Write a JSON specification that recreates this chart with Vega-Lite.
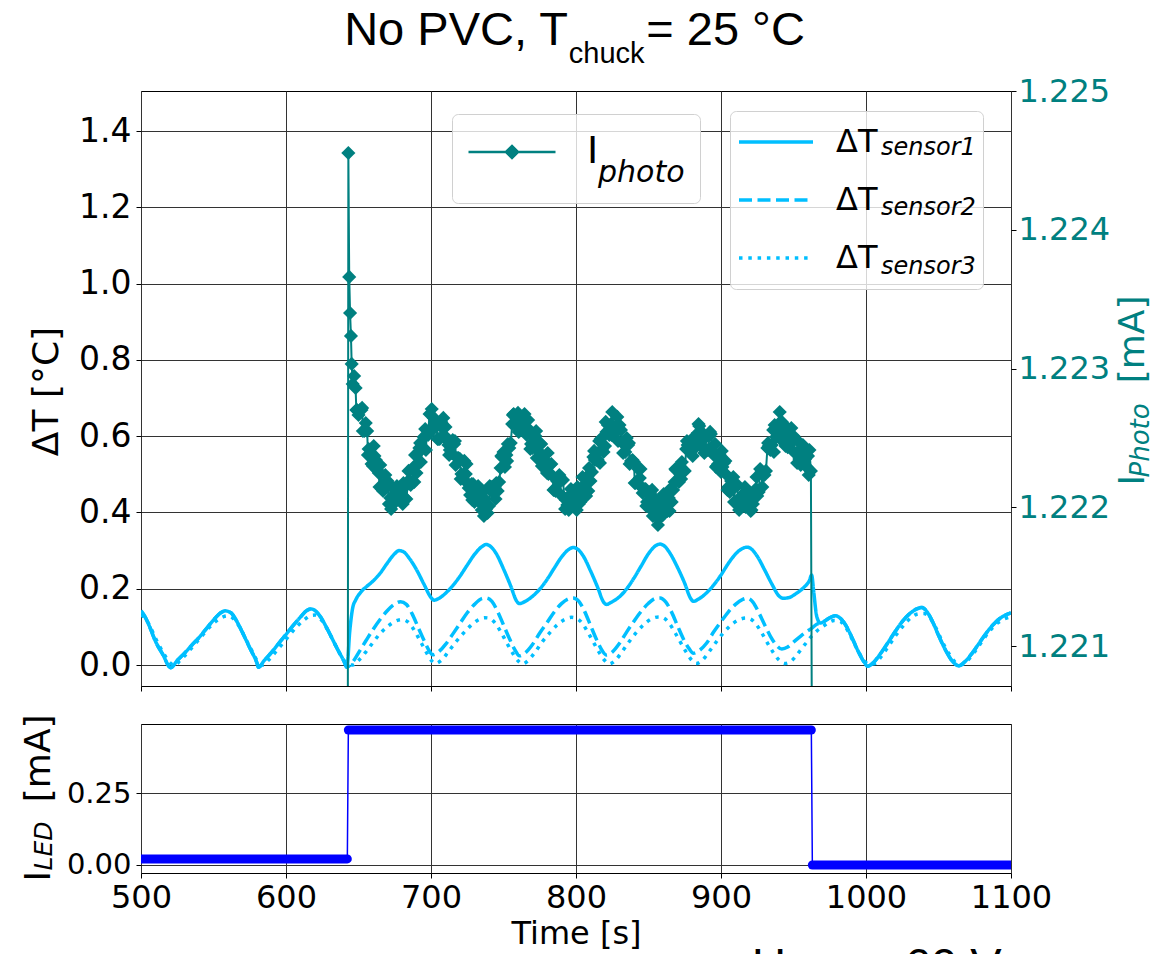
{
  "$schema": "https://vega.github.io/schema/vega-lite/v6.json",
  "background": "white",
  "padding": {"left": 19, "top": 6, "right": 0, "bottom": 0},
  "title": {
    "text": "No PVC, T\u00a0\u00a0\u00a0\u00a0\u00a0\u00a0= 25 °C",
    "subtitle": "\u200b\u00a0\u00a0\u00a0\u00a0\u00a0\u00a0\u00a0\u00a0chuck",
    "anchor": "middle", "dx": -12,
    "font": "Liberation Sans", "fontSize": 47, "fontWeight": "normal", "color": "#000",
    "subtitleFont": "Liberation Sans", "subtitleFontSize": 29, "subtitleColor": "#000",
    "subtitlePadding": -15, "offset": 5
  },
  "spacing": 38,
  "bounds": "flush",
  "datasets": {
    "dT": [
      {"t":500,"v":0.142,"s":"1"},{"t":503,"v":0.125,"s":"1"},{"t":506,"v":0.100,"s":"1"},{"t":510,"v":0.062,"s":"1"},{"t":515,"v":0.028,"s":"1"},{"t":520.5,"v":-0.007,"s":"1"},{"t":525,"v":0.012,"s":"1"},{"t":530,"v":0.031,"s":"1"},{"t":535,"v":0.052,"s":"1"},{"t":540,"v":0.072,"s":"1"},{"t":545,"v":0.095,"s":"1"},{"t":550,"v":0.118,"s":"1"},{"t":555,"v":0.137,"s":"1"},{"t":558,"v":0.142,"s":"1"},{"t":562,"v":0.137,"s":"1"},{"t":566,"v":0.115,"s":"1"},{"t":570,"v":0.085,"s":"1"},{"t":575,"v":0.045,"s":"1"},{"t":580,"v":0.005,"s":"1"},{"t":581,"v":-0.006,"s":"1"},{"t":585,"v":0.012,"s":"1"},{"t":590,"v":0.033,"s":"1"},{"t":595,"v":0.057,"s":"1"},{"t":600,"v":0.080,"s":"1"},{"t":605,"v":0.104,"s":"1"},{"t":610,"v":0.126,"s":"1"},{"t":614,"v":0.142,"s":"1"},{"t":617,"v":0.147,"s":"1"},{"t":620,"v":0.143,"s":"1"},{"t":624,"v":0.125,"s":"1"},{"t":628,"v":0.098,"s":"1"},{"t":632,"v":0.068,"s":"1"},{"t":636,"v":0.038,"s":"1"},{"t":640,"v":0.010,"s":"1"},{"t":642,"v":-0.006,"s":"1"},
      {"t":644,"v":0.090,"s":"1"},{"t":646,"v":0.150,"s":"1"},{"t":648,"v":0.170,"s":"1"},{"t":652,"v":0.193,"s":"1"},{"t":656,"v":0.207,"s":"1"},{"t":660,"v":0.220,"s":"1"},{"t":665,"v":0.241,"s":"1"},{"t":670,"v":0.268,"s":"1"},{"t":675,"v":0.292,"s":"1"},{"t":678,"v":0.300,"s":"1"},{"t":681,"v":0.297,"s":"1"},{"t":685,"v":0.280,"s":"1"},{"t":690,"v":0.250,"s":"1"},{"t":695,"v":0.213,"s":"1"},{"t":700,"v":0.177,"s":"1"},{"t":702,"v":0.170,"s":"1"},{"t":706,"v":0.176,"s":"1"},{"t":710,"v":0.188,"s":"1"},{"t":715,"v":0.208,"s":"1"},{"t":720,"v":0.233,"s":"1"},{"t":725,"v":0.262,"s":"1"},{"t":730,"v":0.290,"s":"1"},{"t":735,"v":0.310,"s":"1"},{"t":738,"v":0.316,"s":"1"},{"t":741,"v":0.311,"s":"1"},{"t":745,"v":0.292,"s":"1"},{"t":750,"v":0.252,"s":"1"},{"t":755,"v":0.207,"s":"1"},{"t":759,"v":0.168,"s":"1"},{"t":761,"v":0.161,"s":"1"},{"t":765,"v":0.167,"s":"1"},{"t":770,"v":0.180,"s":"1"},{"t":775,"v":0.199,"s":"1"},{"t":780,"v":0.224,"s":"1"},{"t":785,"v":0.254,"s":"1"},{"t":790,"v":0.283,"s":"1"},{"t":795,"v":0.303,"s":"1"},{"t":798,"v":0.308,"s":"1"},{"t":801,"v":0.304,"s":"1"},{"t":805,"v":0.286,"s":"1"},{"t":810,"v":0.247,"s":"1"},{"t":815,"v":0.203,"s":"1"},{"t":819,"v":0.165,"s":"1"},{"t":821,"v":0.159,"s":"1"},{"t":825,"v":0.166,"s":"1"},{"t":830,"v":0.179,"s":"1"},{"t":835,"v":0.200,"s":"1"},{"t":840,"v":0.228,"s":"1"},{"t":845,"v":0.260,"s":"1"},{"t":850,"v":0.292,"s":"1"},{"t":855,"v":0.313,"s":"1"},{"t":858,"v":0.317,"s":"1"},{"t":861,"v":0.312,"s":"1"},{"t":865,"v":0.292,"s":"1"},{"t":870,"v":0.256,"s":"1"},{"t":875,"v":0.214,"s":"1"},{"t":879,"v":0.175,"s":"1"},{"t":881,"v":0.167,"s":"1"},{"t":885,"v":0.174,"s":"1"},{"t":890,"v":0.189,"s":"1"},{"t":895,"v":0.210,"s":"1"},{"t":900,"v":0.236,"s":"1"},{"t":905,"v":0.266,"s":"1"},{"t":910,"v":0.291,"s":"1"},{"t":915,"v":0.306,"s":"1"},{"t":918,"v":0.309,"s":"1"},{"t":921,"v":0.304,"s":"1"},{"t":925,"v":0.285,"s":"1"},{"t":930,"v":0.250,"s":"1"},{"t":935,"v":0.213,"s":"1"},{"t":940,"v":0.181,"s":"1"},{"t":943,"v":0.175,"s":"1"},{"t":947,"v":0.177,"s":"1"},{"t":952,"v":0.188,"s":"1"},{"t":957,"v":0.203,"s":"1"},{"t":961,"v":0.222,"s":"1"},{"t":962.5,"v":0.236,"s":"1"},{"t":964,"v":0.190,"s":"1"},{"t":966,"v":0.128,"s":"1"},{"t":968.5,"v":0.110,"s":"1"},
      {"t":971,"v":0.114,"s":"1"},{"t":975,"v":0.124,"s":"1"},{"t":979,"v":0.129,"s":"1"},{"t":983,"v":0.120,"s":"1"},{"t":987,"v":0.098,"s":"1"},{"t":991,"v":0.066,"s":"1"},{"t":995,"v":0.033,"s":"1"},{"t":999,"v":0.006,"s":"1"},{"t":1001,"v":-0.003,"s":"1"},{"t":1005,"v":0.006,"s":"1"},{"t":1010,"v":0.030,"s":"1"},{"t":1015,"v":0.058,"s":"1"},{"t":1020,"v":0.087,"s":"1"},{"t":1025,"v":0.114,"s":"1"},{"t":1030,"v":0.134,"s":"1"},{"t":1035,"v":0.147,"s":"1"},{"t":1038.5,"v":0.151,"s":"1"},{"t":1042,"v":0.140,"s":"1"},{"t":1046,"v":0.113,"s":"1"},{"t":1050,"v":0.078,"s":"1"},{"t":1055,"v":0.038,"s":"1"},{"t":1060,"v":0.008,"s":"1"},{"t":1064,"v":-0.002,"s":"1"},{"t":1068,"v":0.008,"s":"1"},{"t":1073,"v":0.030,"s":"1"},{"t":1078,"v":0.057,"s":"1"},{"t":1083,"v":0.084,"s":"1"},{"t":1088,"v":0.107,"s":"1"},{"t":1093,"v":0.124,"s":"1"},{"t":1098,"v":0.134,"s":"1"},{"t":1100,"v":0.137,"s":"1"},

      {"t":500,"v":0.142,"s":"2"},{"t":503,"v":0.125,"s":"2"},{"t":506,"v":0.100,"s":"2"},{"t":510,"v":0.062,"s":"2"},{"t":515,"v":0.028,"s":"2"},{"t":520.5,"v":-0.007,"s":"2"},{"t":525,"v":0.012,"s":"2"},{"t":530,"v":0.031,"s":"2"},{"t":535,"v":0.052,"s":"2"},{"t":540,"v":0.072,"s":"2"},{"t":545,"v":0.095,"s":"2"},{"t":550,"v":0.118,"s":"2"},{"t":555,"v":0.137,"s":"2"},{"t":558,"v":0.142,"s":"2"},{"t":562,"v":0.137,"s":"2"},{"t":566,"v":0.115,"s":"2"},{"t":570,"v":0.085,"s":"2"},{"t":575,"v":0.045,"s":"2"},{"t":580,"v":0.005,"s":"2"},{"t":581,"v":-0.006,"s":"2"},{"t":585,"v":0.012,"s":"2"},{"t":590,"v":0.033,"s":"2"},{"t":595,"v":0.057,"s":"2"},{"t":600,"v":0.080,"s":"2"},{"t":605,"v":0.104,"s":"2"},{"t":610,"v":0.126,"s":"2"},{"t":614,"v":0.142,"s":"2"},{"t":617,"v":0.147,"s":"2"},{"t":620,"v":0.143,"s":"2"},{"t":624,"v":0.125,"s":"2"},{"t":628,"v":0.098,"s":"2"},{"t":632,"v":0.068,"s":"2"},{"t":636,"v":0.038,"s":"2"},{"t":640,"v":0.010,"s":"2"},{"t":642,"v":-0.006,"s":"2"},
      {"t":646,"v":0.008,"s":"2"},{"t":650,"v":0.032,"s":"2"},{"t":655,"v":0.063,"s":"2"},{"t":660,"v":0.093,"s":"2"},{"t":665,"v":0.120,"s":"2"},{"t":670,"v":0.143,"s":"2"},{"t":675,"v":0.160,"s":"2"},{"t":679,"v":0.166,"s":"2"},{"t":683,"v":0.159,"s":"2"},{"t":687,"v":0.134,"s":"2"},{"t":691,"v":0.100,"s":"2"},{"t":695,"v":0.066,"s":"2"},{"t":699,"v":0.036,"s":"2"},{"t":701,"v":0.027,"s":"2"},{"t":705,"v":0.034,"s":"2"},{"t":710,"v":0.054,"s":"2"},{"t":715,"v":0.081,"s":"2"},{"t":720,"v":0.109,"s":"2"},{"t":725,"v":0.137,"s":"2"},{"t":730,"v":0.159,"s":"2"},{"t":735,"v":0.174,"s":"2"},{"t":738,"v":0.176,"s":"2"},{"t":742,"v":0.167,"s":"2"},{"t":746,"v":0.140,"s":"2"},{"t":750,"v":0.105,"s":"2"},{"t":754,"v":0.070,"s":"2"},{"t":758,"v":0.039,"s":"2"},{"t":761,"v":0.024,"s":"2"},{"t":765,"v":0.032,"s":"2"},{"t":770,"v":0.054,"s":"2"},{"t":775,"v":0.084,"s":"2"},{"t":780,"v":0.111,"s":"2"},{"t":785,"v":0.139,"s":"2"},{"t":790,"v":0.161,"s":"2"},{"t":795,"v":0.174,"s":"2"},{"t":798,"v":0.176,"s":"2"},{"t":802,"v":0.167,"s":"2"},{"t":806,"v":0.140,"s":"2"},{"t":810,"v":0.104,"s":"2"},{"t":814,"v":0.068,"s":"2"},{"t":818,"v":0.038,"s":"2"},{"t":821,"v":0.026,"s":"2"},{"t":825,"v":0.034,"s":"2"},{"t":830,"v":0.057,"s":"2"},{"t":835,"v":0.087,"s":"2"},{"t":840,"v":0.115,"s":"2"},{"t":845,"v":0.141,"s":"2"},{"t":850,"v":0.162,"s":"2"},{"t":855,"v":0.175,"s":"2"},{"t":858,"v":0.176,"s":"2"},{"t":862,"v":0.165,"s":"2"},{"t":866,"v":0.138,"s":"2"},{"t":870,"v":0.103,"s":"2"},{"t":874,"v":0.069,"s":"2"},{"t":878,"v":0.043,"s":"2"},{"t":881,"v":0.031,"s":"2"},{"t":885,"v":0.038,"s":"2"},{"t":890,"v":0.057,"s":"2"},{"t":895,"v":0.087,"s":"2"},{"t":900,"v":0.114,"s":"2"},{"t":905,"v":0.139,"s":"2"},{"t":910,"v":0.159,"s":"2"},{"t":915,"v":0.172,"s":"2"},{"t":918,"v":0.175,"s":"2"},{"t":922,"v":0.165,"s":"2"},{"t":926,"v":0.138,"s":"2"},{"t":930,"v":0.106,"s":"2"},{"t":934,"v":0.076,"s":"2"},{"t":938,"v":0.053,"s":"2"},{"t":942,"v":0.042,"s":"2"},{"t":946,"v":0.047,"s":"2"},{"t":950,"v":0.060,"s":"2"},{"t":955,"v":0.076,"s":"2"},{"t":960,"v":0.090,"s":"2"},{"t":962.5,"v":0.096,"s":"2"},{"t":966,"v":0.107,"s":"2"},{"t":968.5,"v":0.110,"s":"2"},
      {"t":971,"v":0.114,"s":"2"},{"t":975,"v":0.124,"s":"2"},{"t":979,"v":0.129,"s":"2"},{"t":983,"v":0.120,"s":"2"},{"t":987,"v":0.098,"s":"2"},{"t":991,"v":0.066,"s":"2"},{"t":995,"v":0.033,"s":"2"},{"t":999,"v":0.006,"s":"2"},{"t":1001,"v":-0.003,"s":"2"},{"t":1005,"v":0.006,"s":"2"},{"t":1010,"v":0.030,"s":"2"},{"t":1015,"v":0.058,"s":"2"},{"t":1020,"v":0.087,"s":"2"},{"t":1025,"v":0.114,"s":"2"},{"t":1030,"v":0.134,"s":"2"},{"t":1035,"v":0.147,"s":"2"},{"t":1038.5,"v":0.151,"s":"2"},{"t":1042,"v":0.140,"s":"2"},{"t":1046,"v":0.113,"s":"2"},{"t":1050,"v":0.078,"s":"2"},{"t":1055,"v":0.038,"s":"2"},{"t":1060,"v":0.008,"s":"2"},{"t":1064,"v":-0.002,"s":"2"},{"t":1068,"v":0.008,"s":"2"},{"t":1073,"v":0.030,"s":"2"},{"t":1078,"v":0.057,"s":"2"},{"t":1083,"v":0.084,"s":"2"},{"t":1088,"v":0.107,"s":"2"},{"t":1093,"v":0.124,"s":"2"},{"t":1098,"v":0.134,"s":"2"},{"t":1100,"v":0.137,"s":"2"},

      {"t":500,"v":0.131,"s":"3"},{"t":503,"v":0.122,"s":"3"},{"t":506,"v":0.103,"s":"3"},{"t":510,"v":0.070,"s":"3"},{"t":515,"v":0.034,"s":"3"},{"t":520,"v":0.006,"s":"3"},{"t":523,"v":-0.001,"s":"3"},{"t":527,"v":0.012,"s":"3"},{"t":532,"v":0.032,"s":"3"},{"t":537,"v":0.054,"s":"3"},{"t":542,"v":0.076,"s":"3"},{"t":547,"v":0.098,"s":"3"},{"t":552,"v":0.116,"s":"3"},{"t":557,"v":0.127,"s":"3"},{"t":560,"v":0.129,"s":"3"},{"t":564,"v":0.121,"s":"3"},{"t":568,"v":0.100,"s":"3"},{"t":572,"v":0.070,"s":"3"},{"t":577,"v":0.034,"s":"3"},{"t":581,"v":0.006,"s":"3"},{"t":584,"v":0.000,"s":"3"},{"t":588,"v":0.013,"s":"3"},{"t":593,"v":0.035,"s":"3"},{"t":598,"v":0.058,"s":"3"},{"t":603,"v":0.081,"s":"3"},{"t":608,"v":0.103,"s":"3"},{"t":613,"v":0.120,"s":"3"},{"t":617,"v":0.130,"s":"3"},{"t":620,"v":0.131,"s":"3"},{"t":624,"v":0.120,"s":"3"},{"t":628,"v":0.097,"s":"3"},{"t":632,"v":0.068,"s":"3"},{"t":636,"v":0.038,"s":"3"},{"t":640,"v":0.012,"s":"3"},{"t":642,"v":0.003,"s":"3"},
      {"t":646,"v":0.000,"s":"3"},{"t":650,"v":0.012,"s":"3"},{"t":655,"v":0.034,"s":"3"},{"t":660,"v":0.059,"s":"3"},{"t":665,"v":0.083,"s":"3"},{"t":670,"v":0.101,"s":"3"},{"t":675,"v":0.114,"s":"3"},{"t":680,"v":0.119,"s":"3"},{"t":684,"v":0.113,"s":"3"},{"t":688,"v":0.094,"s":"3"},{"t":692,"v":0.067,"s":"3"},{"t":696,"v":0.039,"s":"3"},{"t":700,"v":0.013,"s":"3"},{"t":703,"v":0.004,"s":"3"},{"t":707,"v":0.012,"s":"3"},{"t":712,"v":0.035,"s":"3"},{"t":717,"v":0.060,"s":"3"},{"t":722,"v":0.082,"s":"3"},{"t":727,"v":0.102,"s":"3"},{"t":732,"v":0.117,"s":"3"},{"t":737,"v":0.124,"s":"3"},{"t":740,"v":0.123,"s":"3"},{"t":744,"v":0.111,"s":"3"},{"t":748,"v":0.088,"s":"3"},{"t":752,"v":0.060,"s":"3"},{"t":756,"v":0.033,"s":"3"},{"t":760,"v":0.011,"s":"3"},{"t":763,"v":0.003,"s":"3"},{"t":767,"v":0.012,"s":"3"},{"t":772,"v":0.035,"s":"3"},{"t":777,"v":0.062,"s":"3"},{"t":782,"v":0.085,"s":"3"},{"t":787,"v":0.105,"s":"3"},{"t":792,"v":0.119,"s":"3"},{"t":797,"v":0.125,"s":"3"},{"t":800,"v":0.123,"s":"3"},{"t":804,"v":0.111,"s":"3"},{"t":808,"v":0.087,"s":"3"},{"t":812,"v":0.060,"s":"3"},{"t":816,"v":0.033,"s":"3"},{"t":820,"v":0.011,"s":"3"},{"t":823,"v":0.003,"s":"3"},{"t":827,"v":0.012,"s":"3"},{"t":832,"v":0.036,"s":"3"},{"t":837,"v":0.063,"s":"3"},{"t":842,"v":0.087,"s":"3"},{"t":847,"v":0.107,"s":"3"},{"t":852,"v":0.121,"s":"3"},{"t":857,"v":0.126,"s":"3"},{"t":860,"v":0.124,"s":"3"},{"t":864,"v":0.111,"s":"3"},{"t":868,"v":0.087,"s":"3"},{"t":872,"v":0.060,"s":"3"},{"t":876,"v":0.034,"s":"3"},{"t":880,"v":0.012,"s":"3"},{"t":883,"v":0.004,"s":"3"},{"t":887,"v":0.012,"s":"3"},{"t":892,"v":0.036,"s":"3"},{"t":897,"v":0.062,"s":"3"},{"t":902,"v":0.086,"s":"3"},{"t":907,"v":0.105,"s":"3"},{"t":912,"v":0.118,"s":"3"},{"t":917,"v":0.123,"s":"3"},{"t":920,"v":0.121,"s":"3"},{"t":924,"v":0.108,"s":"3"},{"t":928,"v":0.085,"s":"3"},{"t":932,"v":0.058,"s":"3"},{"t":936,"v":0.033,"s":"3"},{"t":940,"v":0.013,"s":"3"},{"t":944,"v":0.004,"s":"3"},{"t":948,"v":0.009,"s":"3"},{"t":952,"v":0.025,"s":"3"},{"t":956,"v":0.045,"s":"3"},{"t":960,"v":0.064,"s":"3"},{"t":962.5,"v":0.076,"s":"3"},{"t":966,"v":0.089,"s":"3"},{"t":970,"v":0.100,"s":"3"},{"t":974,"v":0.111,"s":"3"},{"t":978,"v":0.117,"s":"3"},{"t":982,"v":0.115,"s":"3"},{"t":986,"v":0.099,"s":"3"},{"t":990,"v":0.071,"s":"3"},{"t":994,"v":0.041,"s":"3"},{"t":998,"v":0.015,"s":"3"},{"t":1002,"v":0.002,"s":"3"},{"t":1006,"v":0.004,"s":"3"},{"t":1011,"v":0.025,"s":"3"},{"t":1016,"v":0.052,"s":"3"},{"t":1021,"v":0.080,"s":"3"},{"t":1026,"v":0.104,"s":"3"},{"t":1031,"v":0.124,"s":"3"},{"t":1036,"v":0.134,"s":"3"},{"t":1040,"v":0.135,"s":"3"},{"t":1044,"v":0.124,"s":"3"},{"t":1048,"v":0.099,"s":"3"},{"t":1052,"v":0.066,"s":"3"},{"t":1057,"v":0.031,"s":"3"},{"t":1062,"v":0.006,"s":"3"},{"t":1066,"v":0.001,"s":"3"},{"t":1070,"v":0.012,"s":"3"},{"t":1075,"v":0.035,"s":"3"},{"t":1080,"v":0.062,"s":"3"},{"t":1085,"v":0.088,"s":"3"},{"t":1090,"v":0.108,"s":"3"},{"t":1095,"v":0.120,"s":"3"},{"t":1100,"v":0.126,"s":"3"}
    ],
    "ip": [
      {"t":642.6,"ip":1.2200},{"t":643.0,"ip":1.224553},{"t":643.6,"ip":1.223660},{"t":644.2,"ip":1.223400},{"t":644.8,"ip":1.223235},{"t":645.3,"ip":1.223033},
      {"t":646,"ip":1.222888},{"t":648,"ip":1.222860},{"t":650,"ip":1.222665},{"t":652,"ip":1.222701},{"t":654,"ip":1.222550},{"t":656,"ip":1.222550},{"t":658,"ip":1.222384},{"t":660,"ip":1.222297},{"t":662,"ip":1.222341},{"t":664,"ip":1.222247},{"t":666,"ip":1.222132},{"t":668,"ip":1.222175},{"t":670,"ip":1.222189},{"t":672,"ip":1.222067},{"t":674,"ip":1.222024},{"t":676,"ip":1.222096},{"t":678,"ip":1.222067},{"t":680,"ip":1.222132},{"t":682,"ip":1.222067},{"t":684,"ip":1.222168},{"t":686,"ip":1.222161},{"t":688,"ip":1.222290},{"t":690,"ip":1.222247},{"t":692,"ip":1.222427},{"t":694,"ip":1.222420},{"t":696,"ip":1.222564},{"t":698,"ip":1.222521},{"t":700,"ip":1.222564},{"t":702,"ip":1.222644},{"t":704,"ip":1.222586},{"t":706,"ip":1.222492},{"t":708,"ip":1.222571},{"t":710,"ip":1.222579},{"t":712,"ip":1.222449},{"t":714,"ip":1.222391},{"t":716,"ip":1.222456},{"t":718,"ip":1.222355},{"t":720,"ip":1.222348},{"t":722,"ip":1.222211},{"t":724,"ip":1.222240},{"t":726,"ip":1.222139},{"t":728,"ip":1.222168},{"t":730,"ip":1.222038},{"t":732,"ip":1.222117},{"t":734,"ip":1.222031},{"t":736,"ip":1.222110},{"t":738,"ip":1.221988},{"t":740,"ip":1.222009},{"t":742,"ip":1.222146},{"t":744,"ip":1.222146},{"t":746,"ip":1.222117},{"t":748,"ip":1.222283},{"t":750,"ip":1.222398},{"t":752,"ip":1.222377},{"t":754,"ip":1.222427},{"t":756,"ip":1.222600},{"t":758,"ip":1.222615},{"t":760,"ip":1.222680},{"t":762,"ip":1.222557},{"t":764,"ip":1.222607},{"t":766,"ip":1.222521},{"t":768,"ip":1.222557},{"t":770,"ip":1.222427},{"t":772,"ip":1.222514},{"t":774,"ip":1.222406},{"t":776,"ip":1.222456},{"t":778,"ip":1.222312},{"t":780,"ip":1.222247},{"t":782,"ip":1.222305},{"t":784,"ip":1.222225},{"t":786,"ip":1.222117},{"t":788,"ip":1.222182},{"t":790,"ip":1.222197},{"t":792,"ip":1.222067},{"t":794,"ip":1.222017},{"t":796,"ip":1.222088},{"t":798,"ip":1.222031},{"t":800,"ip":1.222096},{"t":802,"ip":1.222024},{"t":804,"ip":1.222117},{"t":806,"ip":1.222103},{"t":808,"ip":1.222225},{"t":810,"ip":1.222189},{"t":812,"ip":1.222362},{"t":814,"ip":1.222341},{"t":816,"ip":1.222478},{"t":818,"ip":1.222420},{"t":820,"ip":1.222442},{"t":822,"ip":1.222593},{"t":824,"ip":1.222600},{"t":826,"ip":1.222528},{"t":828,"ip":1.222586},{"t":830,"ip":1.222593},{"t":832,"ip":1.222463},{"t":834,"ip":1.222398},{"t":836,"ip":1.222449},{"t":838,"ip":1.222334},{"t":840,"ip":1.222326},{"t":842,"ip":1.222182},{"t":844,"ip":1.222211},{"t":846,"ip":1.222103},{"t":848,"ip":1.222132},{"t":850,"ip":1.222002},{"t":852,"ip":1.222088},{"t":854,"ip":1.221988},{"t":856,"ip":1.222038},{"t":858,"ip":1.221930},{"t":860,"ip":1.221944},{"t":862,"ip":1.222074},{"t":864,"ip":1.222067},{"t":866,"ip":1.222038},{"t":868,"ip":1.222182},{"t":870,"ip":1.222283},{"t":872,"ip":1.222240},{"t":874,"ip":1.222269},{"t":876,"ip":1.222420},{"t":878,"ip":1.222413},{"t":880,"ip":1.222492},{"t":882,"ip":1.222427},{"t":884,"ip":1.222535},{"t":886,"ip":1.222478},{"t":888,"ip":1.222528},{"t":890,"ip":1.222413},{"t":892,"ip":1.222514},{"t":894,"ip":1.222406},{"t":896,"ip":1.222456},{"t":898,"ip":1.222312},{"t":900,"ip":1.222254},{"t":902,"ip":1.222319},{"t":904,"ip":1.222233},{"t":906,"ip":1.222110},{"t":908,"ip":1.222161},{"t":910,"ip":1.222175},{"t":912,"ip":1.222060},{"t":914,"ip":1.222017},{"t":916,"ip":1.222103},{"t":918,"ip":1.222024},{"t":920,"ip":1.222081},{"t":922,"ip":1.222024},{"t":924,"ip":1.222132},{"t":926,"ip":1.222110},{"t":928,"ip":1.222254},{"t":930,"ip":1.222233},{"t":932,"ip":1.222427},{"t":934,"ip":1.222413},{"t":936,"ip":1.222557},{"t":938,"ip":1.222507},{"t":940,"ip":1.222543},{"t":942,"ip":1.222615},{"t":944,"ip":1.222535},{"t":946,"ip":1.222434},{"t":948,"ip":1.222499},{"t":950,"ip":1.222514},{"t":952,"ip":1.222391},{"t":954,"ip":1.222348},{"t":956,"ip":1.222420},{"t":958,"ip":1.222348},{"t":960,"ip":1.222370},{"t":962,"ip":1.222262},{"t":962.8,"ip":1.2200},
      {"t":647,"ip":1.222946},{"t":649,"ip":1.222701},{"t":651,"ip":1.222701},{"t":653,"ip":1.222550},{"t":655,"ip":1.222607},{"t":657,"ip":1.222420},{"t":659,"ip":1.222312},{"t":661,"ip":1.222370},{"t":663,"ip":1.222269},{"t":665,"ip":1.222305},{"t":667,"ip":1.222117},{"t":669,"ip":1.222168},{"t":671,"ip":1.222024},{"t":673,"ip":1.222146},{"t":675,"ip":1.222038},{"t":677,"ip":1.222067},{"t":679,"ip":1.222045},{"t":681,"ip":1.222175},{"t":683,"ip":1.222060},{"t":685,"ip":1.222197},{"t":687,"ip":1.222182},{"t":689,"ip":1.222377},{"t":691,"ip":1.222312},{"t":693,"ip":1.222326},{"t":695,"ip":1.222507},{"t":697,"ip":1.222521},{"t":699,"ip":1.222672},{"t":701,"ip":1.222557},{"t":703,"ip":1.222622},{"t":705,"ip":1.222492},{"t":707,"ip":1.222615},{"t":709,"ip":1.222507},{"t":711,"ip":1.222499},{"t":713,"ip":1.222413},{"t":715,"ip":1.222485},{"t":717,"ip":1.222305},{"t":719,"ip":1.222355},{"t":721,"ip":1.222240},{"t":723,"ip":1.222334},{"t":725,"ip":1.222175},{"t":727,"ip":1.222088},{"t":729,"ip":1.222168},{"t":731,"ip":1.222074},{"t":733,"ip":1.222132},{"t":735,"ip":1.221980},{"t":737,"ip":1.222060},{"t":739,"ip":1.221959},{"t":741,"ip":1.222146},{"t":743,"ip":1.222103},{"t":745,"ip":1.222175},{"t":747,"ip":1.222182},{"t":749,"ip":1.222362},{"t":751,"ip":1.222290},{"t":753,"ip":1.222456},{"t":755,"ip":1.222463},{"t":757,"ip":1.222672},{"t":759,"ip":1.222600},{"t":761,"ip":1.222557},{"t":763,"ip":1.222644},{"t":765,"ip":1.222571},{"t":767,"ip":1.222629},{"t":769,"ip":1.222456},{"t":771,"ip":1.222507},{"t":773,"ip":1.222355},{"t":775,"ip":1.222463},{"t":777,"ip":1.222341},{"t":779,"ip":1.222334},{"t":781,"ip":1.222240},{"t":783,"ip":1.222312},{"t":785,"ip":1.222125},{"t":787,"ip":1.222189},{"t":789,"ip":1.222096},{"t":791,"ip":1.222197},{"t":793,"ip":1.222053},{"t":795,"ip":1.221980},{"t":797,"ip":1.222081},{"t":799,"ip":1.222038},{"t":801,"ip":1.222146},{"t":803,"ip":1.222038},{"t":805,"ip":1.222153},{"t":807,"ip":1.222081},{"t":809,"ip":1.222283},{"t":811,"ip":1.222254},{"t":813,"ip":1.222341},{"t":815,"ip":1.222341},{"t":817,"ip":1.222492},{"t":819,"ip":1.222398},{"t":821,"ip":1.222543},{"t":823,"ip":1.222521},{"t":825,"ip":1.222687},{"t":827,"ip":1.222557},{"t":829,"ip":1.222478},{"t":831,"ip":1.222557},{"t":833,"ip":1.222463},{"t":835,"ip":1.222499},{"t":837,"ip":1.222312},{"t":839,"ip":1.222341},{"t":841,"ip":1.222175},{"t":843,"ip":1.222276},{"t":845,"ip":1.222146},{"t":847,"ip":1.222132},{"t":849,"ip":1.222038},{"t":851,"ip":1.222110},{"t":853,"ip":1.221937},{"t":855,"ip":1.221995},{"t":857,"ip":1.221916},{"t":859,"ip":1.222067},{"t":861,"ip":1.221988},{"t":863,"ip":1.221973},{"t":865,"ip":1.222132},{"t":867,"ip":1.222125},{"t":869,"ip":1.222269},{"t":871,"ip":1.222182},{"t":873,"ip":1.222326},{"t":875,"ip":1.222262},{"t":877,"ip":1.222449},{"t":879,"ip":1.222413},{"t":881,"ip":1.222478},{"t":883,"ip":1.222463},{"t":885,"ip":1.222586},{"t":887,"ip":1.222434},{"t":889,"ip":1.222499},{"t":891,"ip":1.222413},{"t":893,"ip":1.222528},{"t":895,"ip":1.222377},{"t":897,"ip":1.222297},{"t":899,"ip":1.222377},{"t":901,"ip":1.222290},{"t":903,"ip":1.222334},{"t":905,"ip":1.222146},{"t":907,"ip":1.222189},{"t":909,"ip":1.222038},{"t":911,"ip":1.222153},{"t":913,"ip":1.222060},{"t":915,"ip":1.222067},{"t":917,"ip":1.222002},{"t":919,"ip":1.222103},{"t":921,"ip":1.221980},{"t":923,"ip":1.222110},{"t":925,"ip":1.222081},{"t":927,"ip":1.222276},{"t":929,"ip":1.222233},{"t":931,"ip":1.222262},{"t":933,"ip":1.222442},{"t":935,"ip":1.222449},{"t":937,"ip":1.222593},{"t":939,"ip":1.222514},{"t":941,"ip":1.222615},{"t":943,"ip":1.222470},{"t":945,"ip":1.222579},{"t":947,"ip":1.222470},{"t":949,"ip":1.222470},{"t":951,"ip":1.222391},{"t":953,"ip":1.222478},{"t":955,"ip":1.222305},{"t":957,"ip":1.222377},{"t":959,"ip":1.222290},{"t":961,"ip":1.222413},
      {"t":648.5,"ip":1.222701},{"t":652.5,"ip":1.222716},{"t":656.5,"ip":1.222377},{"t":660.5,"ip":1.222442},{"t":664.5,"ip":1.222146},{"t":668.5,"ip":1.222233},{"t":672.5,"ip":1.221988},{"t":676.5,"ip":1.222153},{"t":680.5,"ip":1.222024},{"t":684.5,"ip":1.222262},{"t":688.5,"ip":1.222182},{"t":692.5,"ip":1.222463},{"t":696.5,"ip":1.222413},{"t":700.5,"ip":1.222708},{"t":704.5,"ip":1.222492},{"t":708.5,"ip":1.222644},{"t":712.5,"ip":1.222377},{"t":716.5,"ip":1.222478},{"t":720.5,"ip":1.222204},{"t":724.5,"ip":1.222312},{"t":728.5,"ip":1.222053},{"t":732.5,"ip":1.222153},{"t":736.5,"ip":1.221937},{"t":740.5,"ip":1.222153},{"t":744.5,"ip":1.222060},{"t":748.5,"ip":1.222370},{"t":752.5,"ip":1.222334},{"t":756.5,"ip":1.222665},{"t":760.5,"ip":1.222543},{"t":764.5,"ip":1.222672},{"t":768.5,"ip":1.222420},{"t":772.5,"ip":1.222550},{"t":776.5,"ip":1.222297},{"t":780.5,"ip":1.222391},{"t":784.5,"ip":1.222125},{"t":788.5,"ip":1.222233},{"t":792.5,"ip":1.221988},{"t":796.5,"ip":1.222132},{"t":800.5,"ip":1.221980},{"t":804.5,"ip":1.222218},{"t":808.5,"ip":1.222117},{"t":812.5,"ip":1.222406},{"t":816.5,"ip":1.222319},{"t":820.5,"ip":1.222615},{"t":824.5,"ip":1.222521},{"t":828.5,"ip":1.222651},{"t":832.5,"ip":1.222391},{"t":836.5,"ip":1.222463},{"t":840.5,"ip":1.222175},{"t":844.5,"ip":1.222276},{"t":848.5,"ip":1.222009},{"t":852.5,"ip":1.222125},{"t":856.5,"ip":1.221872},{"t":860.5,"ip":1.222096},{"t":864.5,"ip":1.221973},{"t":868.5,"ip":1.222276},{"t":872.5,"ip":1.222204},{"t":876.5,"ip":1.222478},{"t":880.5,"ip":1.222370},{"t":884.5,"ip":1.222600},{"t":888.5,"ip":1.222391},{"t":892.5,"ip":1.222543},{"t":896.5,"ip":1.222290},{"t":900.5,"ip":1.222406},{"t":904.5,"ip":1.222125},{"t":908.5,"ip":1.222218},{"t":912.5,"ip":1.221980},{"t":916.5,"ip":1.222146},{"t":920.5,"ip":1.221973},{"t":924.5,"ip":1.222218},{"t":928.5,"ip":1.222146},{"t":932.5,"ip":1.222463},{"t":936.5,"ip":1.222398},{"t":940.5,"ip":1.222687},{"t":944.5,"ip":1.222442},{"t":948.5,"ip":1.222571},{"t":952.5,"ip":1.222319},{"t":956.5,"ip":1.222449},{"t":960.5,"ip":1.222233}
    ],
    "led": [
      {"t":500,"v":0.021,"seg":"a"},{"t":642.3,"v":0.021,"seg":"a"},{"t":643.0,"v":0.469,"seg":"b"},{"t":962.3,"v":0.469,"seg":"b"},{"t":963.0,"v":0.0,"seg":"c"},{"t":1100,"v":0.0,"seg":"c"}
    ]
  },
  "vconcat": [
    {
      "width": 870,
      "height": 595,
      "layer": [
        {
          "data": {"name": "dT"},
          "mark": {"type": "line", "color": "#00bfff", "strokeWidth": 3.5, "interpolate": "monotone", "clip": true},
          "encoding": {
            "x": {"field": "t", "type": "quantitative", "scale": {"domain": [500, 1100], "nice": false, "zero": false},
                  "axis": {"values": [500, 600, 700, 800, 900, 1000, 1100], "labels": false, "title": null, "ticks": true, "grid": true}},
            "y": {"field": "v", "type": "quantitative", "scale": {"domain": [-0.055, 1.505], "nice": false, "zero": false},
                  "axis": {"orient": "left", "values": [0, 0.2, 0.4, 0.6, 0.8, 1.0, 1.2, 1.4], "format": ".1f", "labelFontSize": 33, "labelPadding": 5, "grid": true,
                           "title": "ΔT [°C]", "titleFontSize": 36, "titleAngle": 270, "titleAlign": "center", "titleBaseline": "alphabetic", "titleX": -84, "titleY": 300}},
            "strokeDash": {"field": "s", "type": "nominal",
                  "scale": {"domain": ["1", "2", "3"], "range": [[1, 0], [13, 5.5], [3.5, 5.8]]},
                  "legend": {
                    "orient": "none", "legendX": 589, "legendY": 20, "direction": "vertical",
                    "title": ["sensor1", "sensor2", "sensor3"],
                    "titleOrient": "right", "titleAnchor": "start", "titleBaseline": "line-top", "titleLineHeight": 59.5,
                    "titleFont": "DejaVu Sans", "titleFontStyle": "italic", "titleFontWeight": "normal", "titleFontSize": 24, "titleColor": "#000", "titlePadding": 4,
                    "labelExpr": "'ΔT'", "labelFont": "DejaVu Sans", "labelFontSize": 32, "labelColor": "#000", "labelOffset": 21,
                    "symbolType": "stroke", "symbolSize": 5476, "symbolStrokeWidth": 3.5, "symbolStrokeColor": "#00bfff",
                    "clipHeight": 48, "rowPadding": 10, "padding": 7,
                    "fillColor": "rgba(255,255,255,0.8)", "strokeColor": "#d0d0d0", "cornerRadius": 6
                  }}
          }
        },
        {
          "data": {"name": "ip"},
          "mark": {"type": "line", "strokeWidth": 2, "clip": true},
          "encoding": {
            "x": {"field": "t", "type": "quantitative"},
            "y": {"field": "ip", "type": "quantitative", "scale": {"domain": [1.220712, 1.225], "nice": false, "zero": false},
                  "axis": {"orient": "right", "values": [1.221, 1.222, 1.223, 1.224, 1.225], "format": ".3f", "labelColor": "#008080", "labelFontSize": 32, "labelPadding": 2, "grid": false,
                           "title": "I\u00a0\u00a0\u00a0\u00a0\u00a0\u00a0\u00a0\u00a0[mA]", "titleColor": "#008080", "titleFontSize": 36, "titleAngle": 270, "titleAlign": "left", "titleBaseline": "alphabetic", "titleX": 132, "titleY": 394}},
            "color": {"datum": "I", "scale": {"domain": ["I"], "range": ["#008080"]},
                  "legend": {
                    "orient": "none", "legendX": 311, "legendY": 23,
                    "title": "photo", "titleOrient": "right", "titleAnchor": "start", "titleBaseline": "line-top", "titleLineHeight": 88,
                    "titleFont": "DejaVu Sans", "titleFontStyle": "italic", "titleFontWeight": "normal", "titleFontSize": 30, "titleColor": "#000", "titlePadding": 0,
                    "labelFont": "DejaVu Sans", "labelFontSize": 38, "labelColor": "#000", "labelOffset": 30,
                    "symbolType": "M-1,0H1M-0.138,0L0,-0.138L0.138,0L0,0.138Z", "symbolSize": 7569, "symbolStrokeWidth": 2.5, "symbolFillColor": "#008080", "symbolStrokeColor": "#008080",
                    "clipHeight": 46, "padding": 15,
                    "fillColor": "rgba(255,255,255,0.8)", "strokeColor": "#d0d0d0", "cornerRadius": 6
                  }}
          }
        },
        {
          "data": {"name": "ip"},
          "mark": {"type": "point", "shape": "diamond", "filled": true, "size": 200, "opacity": 1, "color": "#008080", "clip": true},
          "encoding": {
            "x": {"field": "t", "type": "quantitative"},
            "y": {"field": "ip", "type": "quantitative", "scale": {"domain": [1.220712, 1.225], "nice": false, "zero": false},
                  "axis": {"orient": "right", "labels": false, "ticks": false, "domain": false, "grid": false,
                           "title": "Photo", "titleColor": "#008080", "titleFontSize": 26, "titleFontStyle": "italic", "titleAngle": 270, "titleAlign": "left", "titleBaseline": "alphabetic", "titleX": 137, "titleY": 386}}
          }
        }
      ],
      "resolve": {"scale": {"y": "independent"}, "axis": {"y": "independent"}}
    },
    {
      "width": 870,
      "height": 149,
      "data": {"name": "led"},
      "title": {"text": "U\u00a0\u00a0\u00a0\u00a0\u00a0\u00a0= 60 V", "orient": "bottom", "anchor": "start", "frame": "group", "dx": 611, "offset": -5,
                "font": "Liberation Sans", "fontSize": 47, "fontWeight": "normal", "color": "#000"},
      "layer": [
        {
          "mark": {"type": "line", "color": "#0000ff", "strokeWidth": 9, "strokeCap": "round", "clip": true},
          "encoding": {
            "x": {"field": "t", "type": "quantitative", "scale": {"domain": [500, 1100], "nice": false, "zero": false},
                  "axis": {"values": [500, 600, 700, 800, 900, 1000, 1100], "format": "d", "labelFontSize": 32, "labelPadding": 4, "labelFlush": false, "labelOverlap": false, "grid": true,
                           "title": "Time [s]", "titleFontSize": 32, "titlePadding": 5}},
            "y": {"field": "v", "type": "quantitative", "scale": {"domain": [-0.028, 0.49], "nice": false, "zero": false},
                  "axis": {"orient": "left", "values": [0, 0.25], "format": ".2f", "labelFontSize": 29, "labelPadding": 5, "grid": true,
                           "title": "I\u00a0\u00a0\u00a0\u00a0\u00a0\u00a0[mA]", "titleFontSize": 36, "titleAngle": 270, "titleAlign": "left", "titleBaseline": "alphabetic", "titleX": -92, "titleY": 157}},
            "detail": {"field": "seg"}
          }
        },
        {
          "mark": {"type": "line", "color": "#0000ff", "strokeWidth": 1.5, "clip": true},
          "encoding": {
            "x": {"field": "t", "type": "quantitative"},
            "y": {"field": "v", "type": "quantitative", "scale": {"domain": [-0.028, 0.49], "nice": false, "zero": false},
                  "axis": {"orient": "left", "labels": false, "ticks": false, "domain": false, "grid": false,
                           "title": "LED", "titleFontSize": 25, "titleFontStyle": "italic", "titleAngle": 270, "titleAlign": "left", "titleBaseline": "alphabetic", "titleX": -90, "titleY": 146}}
          }
        }
      ],
      "resolve": {"scale": {"y": "independent"}, "axis": {"y": "independent"}}
    }
  ],
  "config": {
    "view": {"stroke": "#000", "strokeWidth": 1},
    "axis": {
      "labelFont": "DejaVu Sans", "titleFont": "DejaVu Sans", "titleFontWeight": "normal",
      "labelColor": "#000", "titleColor": "#000", "tickColor": "#000", "tickSize": 5, "tickWidth": 1,
      "domain": false, "gridColor": "#333", "gridWidth": 1, "gridOpacity": 1
    },
    "legend": {"strokeWidth": 1}
  }
}
